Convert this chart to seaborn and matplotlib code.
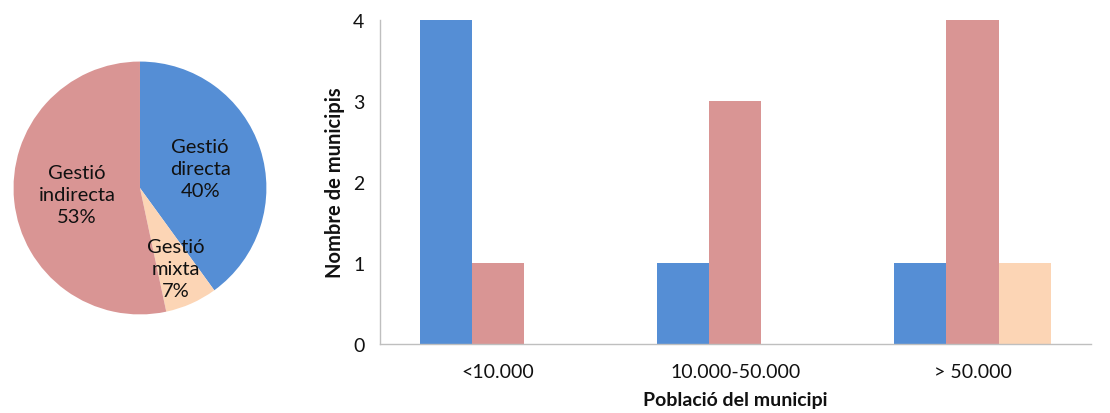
import matplotlib
matplotlib.use('Agg')
import matplotlib.pyplot as plt
import seaborn as sns
import pandas as pd
import numpy as np

# pie data
pie_labels = ['Gestió directa', 'Gestió mixta', 'Gestió indirecta']
pie_values = [6, 1, 8]
pie_colors = ['#558ED5', '#FCD5B5', '#D99594']

# bar data
categories = ['<10.000', '10.000-50.000', '> 50.000']
directa = [4, 1, 1]
indirecta = [1, 3, 4]
mixta = [0, 0, 1]

sns.set_style('white')
plt.rcParams['font.family'] = ['Lato', 'DejaVu Sans']

fig = plt.figure(figsize=(11.1, 4.14), dpi=100)

# ---- pie ----
ax_pie = fig.add_axes([0.0099, 0.232, 0.2324, 0.623])
wedges, _ = ax_pie.pie(pie_values, colors=pie_colors, startangle=90,
                       counterclock=False, radius=1,
                       wedgeprops=dict(linewidth=0))
ax_pie.set_xlim(-1.02, 1.02)
ax_pie.set_ylim(-1.02, 1.02)
ax_pie.set_aspect('equal')
dists = [0.5, 0.7, 0.5]
for w, lab, v, d in zip(wedges, pie_labels, pie_values, dists):
    mid = np.deg2rad((w.theta1 + w.theta2) / 2)
    pct = v / sum(pie_values) * 100
    txt = lab.replace(' ', '\n') + '\n%d%%' % round(pct)
    ax_pie.text(d * np.cos(mid), d * np.sin(mid), txt, ha='center', va='center',
                fontsize=14.5, linespacing=1.35, color='#111111')

# ---- bars ----
df = pd.DataFrame({
    'cat': categories * 3,
    'val': directa + indirecta + mixta,
    'tipus': ['directa'] * 3 + ['indirecta'] * 3 + ['mixta'] * 3,
})
ax = fig.add_axes([0.342, 0.167, 0.641, 0.782])
sns.barplot(data=df, x='cat', y='val', hue='tipus',
            hue_order=['directa', 'indirecta', 'mixta'],
            palette=['#558ED5', '#D99594', '#FCD5B5'],
            width=0.66, gap=0, saturation=1, linewidth=0, ax=ax, legend=False)
ax.set_xlim(-0.5, 2.5)
ax.set_ylim(0, 4)
ax.set_yticks([0, 1, 2, 3, 4])
ax.set_xticks([-0.5, 0.5, 1.5, 2.5], minor=True)
sns.despine(ax=ax)
for s in ['left', 'bottom']:
    ax.spines[s].set_color('#BFBFBF')
    ax.spines[s].set_linewidth(1)
ax.tick_params(axis='y', length=6, color='#BFBFBF', labelsize=14, pad=5,
               labelcolor='#111111')
ax.tick_params(axis='x', which='major', length=0, labelsize=14, pad=14,
               labelcolor='#111111')
ax.tick_params(axis='x', which='minor', length=6, color='#BFBFBF')
ax.set_xlabel('Població del municipi', fontsize=14, fontweight='bold', labelpad=8,
              color='#111111')
ax.set_ylabel('Nombre de municipis', fontsize=14.5, fontweight='bold', labelpad=6,
              color='#111111')

plt.savefig('out.png', dpi=100)
plt.close()
